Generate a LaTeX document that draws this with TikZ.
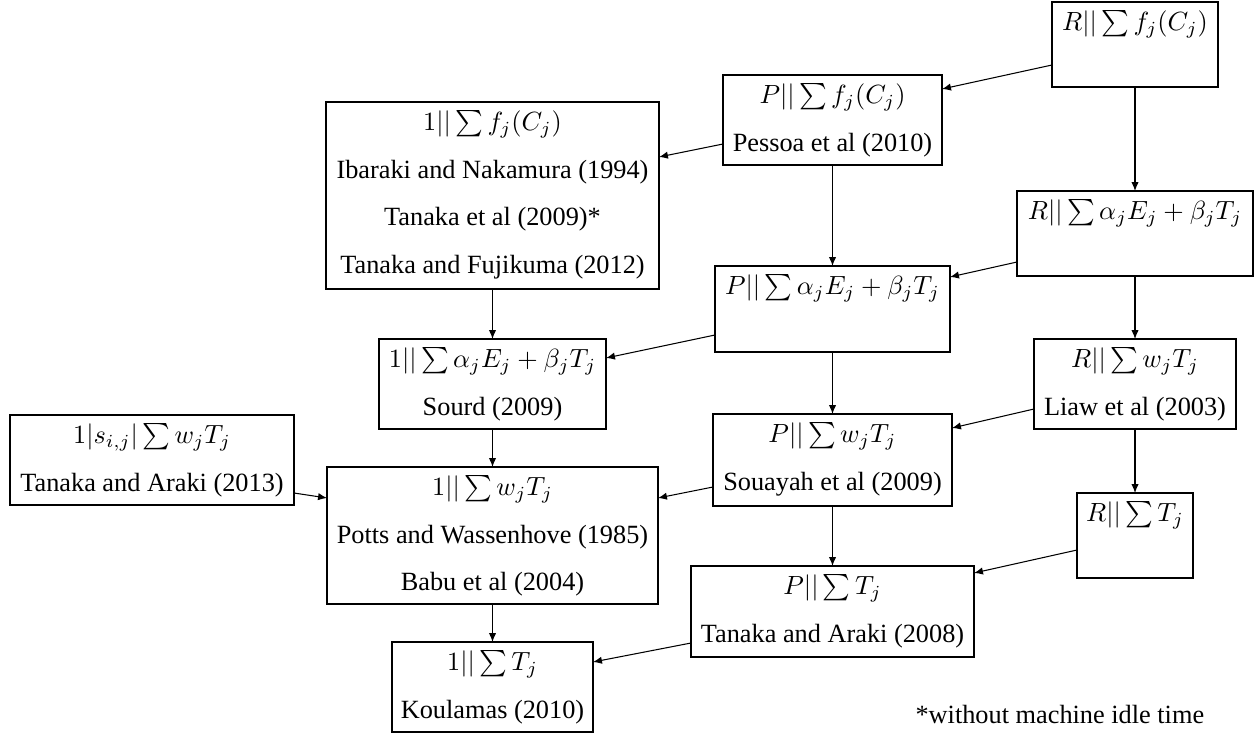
\documentclass[tikz,border=0pt]{standalone}
\usepackage[no-math]{fontspec}
\setmainfont{Liberation Serif}
\usetikzlibrary{arrows.meta,calc}
\begin{document}
\begin{tikzpicture}[x=0.3801pt,y=-0.3801pt,
  box/.style 2 args={draw,line width=0.4pt,inner sep=0pt,outer sep=0pt,anchor=north west,
    minimum width=#1*0.3801pt,minimum height=#2*0.3801pt},
  lbl/.style={anchor=base,inner sep=0pt,font=\fontsize{10}{12}\selectfont},
  link/.style={line width=0.4pt,-{Latex[length=3.4pt,width=2.8pt]}}]
\useasboundingbox (0,0) rectangle (1259,740);

% problem boxes
\node[box={166}{85}]  (Rf) at (1052,2)   {};
\node[box={219}{90}]  (Pf) at (723,75)   {};
\node[box={333}{187}] (Of) at (326,102)  {};
\node[box={236}{85}]  (Ra) at (1017,191) {};
\node[box={235}{86}]  (Pa) at (715,266)  {};
\node[box={227}{90}]  (Oa) at (379,339)  {};
\node[box={202}{90}]  (Rw) at (1034,339) {};
\node[box={239}{92}]  (Pw) at (713,414)  {};
\node[box={284}{90}]  (Sw) at (10,415)   {};
\node[box={331}{137}] (Ow) at (327,467)  {};
\node[box={116}{85}]  (Rt) at (1077,493) {};
\node[box={283}{91}]  (Pt) at (691,566)  {};
\node[box={201}{90}]  (Ot) at (392,642)  {};

% box contents: formula on the first line, references below
\node[lbl] (Rf1) at ($(Rf.north)+(0,28.5)$) {$R||\sum f_j(C_j)$};

\node[lbl] (Pf1) at ($(Pf.north)+(0,28.5)$) {$P||\sum f_j(C_j)$};
\node[lbl] (Pf2) at ($(Pf.north)+(0,76)$)   {Pessoa et al (2010)};

\node[lbl] (Of1) at ($(Of.north)+(0,28.5)$) {$1||\sum f_j(C_j)$};
\node[lbl] (Of2) at ($(Of.north)+(0,76)$)   {Ibaraki and Nakamura (1994)};
\node[lbl] (Of3) at ($(Of.north)+(0,123.5)$){Tanaka et al (2009)*};
\node[lbl] (Of4) at ($(Of.north)+(0,171)$)  {Tanaka and Fujikuma (2012)};

\node[lbl] (Ra1) at ($(Ra.north)+(0,28.5)$) {$R||\sum \alpha_jE_j+\beta_jT_j$};

\node[lbl] (Pa1) at ($(Pa.north)+(0,28.5)$) {$P||\sum \alpha_jE_j+\beta_jT_j$};

\node[lbl] (Oa1) at ($(Oa.north)+(0,28.5)$) {$1||\sum \alpha_jE_j+\beta_jT_j$};
\node[lbl] (Oa2) at ($(Oa.north)+(0,76)$)   {Sourd (2009)};

\node[lbl] (Rw1) at ($(Rw.north)+(0,28.5)$) {$R||\sum w_jT_j$};
\node[lbl] (Rw2) at ($(Rw.north)+(0,76)$)   {Liaw et al (2003)};

\node[lbl] (Pw1) at ($(Pw.north)+(0,28.5)$) {$P||\sum w_jT_j$};
\node[lbl] (Pw2) at ($(Pw.north)+(0,76)$)   {Souayah et al (2009)};

\node[lbl] (Sw1) at ($(Sw.north)+(0,28.5)$) {$1|s_{i,j}|\sum w_jT_j$};
\node[lbl] (Sw2) at ($(Sw.north)+(0,76)$)   {Tanaka and Araki (2013)};

\node[lbl] (Ow1) at ($(Ow.north)+(0,28.5)$) {$1||\sum w_jT_j$};
\node[lbl] (Ow2) at ($(Ow.north)+(0,76)$)   {Potts and Wassenhove (1985)};
\node[lbl] (Ow3) at ($(Ow.north)+(0,123.5)$){Babu et al (2004)};

\node[lbl] (Rt1) at ($(Rt.north)+(0,28.5)$) {$R||\sum T_j$};

\node[lbl] (Pt1) at ($(Pt.north)+(0,28.5)$) {$P||\sum T_j$};
\node[lbl] (Pt2) at ($(Pt.north)+(0,76)$)   {Tanaka and Araki (2008)};

\node[lbl] (Ot1) at ($(Ot.north)+(0,28.5)$) {$1||\sum T_j$};
\node[lbl] (Ot2) at ($(Ot.north)+(0,76)$)   {Koulamas (2010)};

% footnote
\node[lbl,anchor=base west] (note) at (915,723) {*without machine idle time};

% vertical reductions
\draw[link] (Rf.south) -- (Ra.north);
\draw[link] (Ra.south) -- (Rw.north);
\draw[link] (Rw.south) -- (Rt.north);
\draw[link] (Pf.south) -- (Pa.north);
\draw[link] (Pa.south) -- (Pw.north);
\draw[link] (Pw.south) -- (Pt.north);
\draw[link] (Of.south) -- (Oa.north);
\draw[link] (Oa.south) -- (Ow.north);
\draw[link] (Ow.south) -- (Ot.north);

% slanted reductions
\draw[link] ($(Rf.north west)+(0,63)$) -- ($(Pf.north east)+(0,14)$);
\draw[link] ($(Pf.north west)+(0,69)$) -- ($(Of.north east)+(0,55)$);
\draw[link] ($(Ra.north west)+(0,71)$) -- ($(Pa.north east)+(0,11)$);
\draw[link] ($(Pa.north west)+(0,69)$) -- ($(Oa.north east)+(0,19)$);
\draw[link] ($(Rw.north west)+(0,70)$) -- ($(Pw.north east)+(0,14)$);
\draw[link] ($(Sw.north east)+(0,78)$) -- ($(Ow.north west)+(0,31)$);
\draw[link] ($(Pw.north west)+(0,73)$) -- ($(Ow.north east)+(0,31)$);
\draw[link] ($(Rt.north west)+(0,57)$) -- ($(Pt.north east)+(0,7)$);
\draw[link] ($(Pt.north west)+(0,77)$) -- ($(Ot.north east)+(0,20)$);
\end{tikzpicture}
\end{document}
